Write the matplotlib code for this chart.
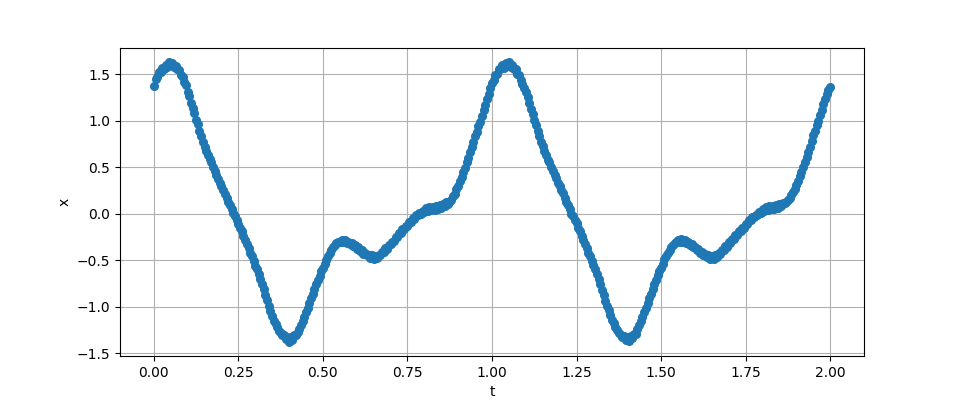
import matplotlib.pyplot as plt
import numpy as np

# valores, passo de 0.005 em t (primeiro período)
x_first = [
    1.37, 1.45, 1.47, 1.52, 1.52, 1.57, 1.56, 1.60, 1.58, 1.63,
    1.60, 1.62, 1.58, 1.59, 1.55, 1.54, 1.49, 1.47, 1.42, 1.38,
    1.31, 1.26, 1.19, 1.14, 1.08, 1.01, 0.96, 0.89, 0.83, 0.77,
    0.72, 0.67, 0.63, 0.59, 0.55, 0.50, 0.46, 0.41, 0.37, 0.33,
    0.30, 0.25, 0.21, 0.17, 0.13, 0.09, 0.05, 0.01, -0.03, -0.07,
    -0.11, -0.15, -0.19, -0.24, -0.28, -0.33, -0.37, -0.42, -0.46, -0.51,
    -0.56, -0.60, -0.65, -0.70, -0.76, -0.81, -0.87, -0.93, -0.99, -1.05,
    -1.10, -1.15, -1.19, -1.22, -1.26, -1.28, -1.31, -1.31, -1.35, -1.33,
    -1.38, -1.33, -1.36, -1.31, -1.31, -1.27, -1.24, -1.20, -1.15, -1.11,
    -1.06, -1.01, -0.96, -0.91, -0.86, -0.81, -0.76, -0.71, -0.67, -0.62,
    -0.58, -0.54, -0.50, -0.46, -0.42, -0.39, -0.36, -0.34, -0.32, -0.31,
    -0.30, -0.28, -0.30, -0.28, -0.32, -0.30, -0.33, -0.32, -0.35, -0.34,
    -0.38, -0.36, -0.40, -0.39, -0.43, -0.42, -0.45, -0.44, -0.48, -0.45,
    -0.49, -0.46, -0.48, -0.44, -0.44, -0.41, -0.41, -0.37, -0.38, -0.34,
    -0.33, -0.30, -0.29, -0.25, -0.25, -0.21, -0.21, -0.17, -0.17, -0.13,
    -0.13, -0.09, -0.09, -0.05, -0.06, -0.02, -0.02, 0.01, 0.00, 0.03,
    0.02, 0.06, 0.03, 0.07, 0.04, 0.07, 0.04, 0.08, 0.05, 0.09,
    0.06, 0.10, 0.08, 0.12, 0.10, 0.14, 0.15, 0.19, 0.21, 0.26,
    0.30, 0.35, 0.39, 0.45, 0.49, 0.55, 0.60, 0.66, 0.72, 0.77,
    0.83, 0.88, 0.94, 0.99, 1.05, 1.11, 1.17, 1.23, 1.29, 1.35,
]

# segundo período (t = 1.000 ... 2.000)
x_second = [
    1.40, 1.44, 1.49, 1.50, 1.56, 1.55, 1.60, 1.57, 1.62, 1.59,
    1.63, 1.58, 1.60, 1.55, 1.56, 1.50, 1.49, 1.44, 1.39, 1.35,
    1.31, 1.25, 1.19, 1.13, 1.07, 1.01, 0.95, 0.89, 0.83, 0.77,
    0.73, 0.67, 0.63, 0.58, 0.55, 0.50, 0.46, 0.41, 0.38, 0.33,
    0.30, 0.25, 0.22, 0.17, 0.13, 0.09, 0.05, 0.00, -0.03, -0.07,
    -0.10, -0.15, -0.19, -0.24, -0.28, -0.33, -0.37, -0.42, -0.46, -0.51,
    -0.55, -0.60, -0.65, -0.70, -0.76, -0.82, -0.88, -0.94, -0.99, -1.04,
    -1.09, -1.14, -1.18, -1.22, -1.25, -1.28, -1.30, -1.33, -1.32, -1.36,
    -1.33, -1.37, -1.32, -1.34, -1.29, -1.29, -1.24, -1.20, -1.15, -1.11,
    -1.06, -1.01, -0.96, -0.91, -0.86, -0.81, -0.76, -0.71, -0.66, -0.62,
    -0.58, -0.54, -0.49, -0.46, -0.42, -0.39, -0.36, -0.34, -0.32, -0.31,
    -0.28, -0.30, -0.27, -0.31, -0.28, -0.32, -0.31, -0.34, -0.33, -0.36,
    -0.36, -0.39, -0.38, -0.42, -0.41, -0.44, -0.43, -0.47, -0.45, -0.49,
    -0.46, -0.49, -0.45, -0.47, -0.42, -0.43, -0.39, -0.39, -0.35, -0.36,
    -0.31, -0.32, -0.27, -0.27, -0.23, -0.23, -0.19, -0.19, -0.15, -0.15,
    -0.11, -0.11, -0.07, -0.07, -0.04, -0.04, -0.01, -0.02, 0.02, 0.01,
    0.05, 0.03, 0.07, 0.04, 0.08, 0.05, 0.08, 0.05, 0.09, 0.06,
    0.10, 0.08, 0.11, 0.11, 0.13, 0.15, 0.17, 0.20, 0.23, 0.27,
    0.31, 0.35, 0.40, 0.45, 0.50, 0.55, 0.61, 0.66, 0.72, 0.78,
    0.84, 0.89, 0.95, 1.00, 1.06, 1.11, 1.18, 1.23, 1.29, 1.33,
    1.36,
]

x = x_first + x_second
t = np.linspace(0, 2, len(x))

plt.figure(figsize=(9.6, 4))
plt.plot(t, x, '.', markersize=11)
plt.xlabel("t")
plt.ylabel("x")
plt.grid(True)
plt.savefig("out.png", dpi=100)
plt.close()
